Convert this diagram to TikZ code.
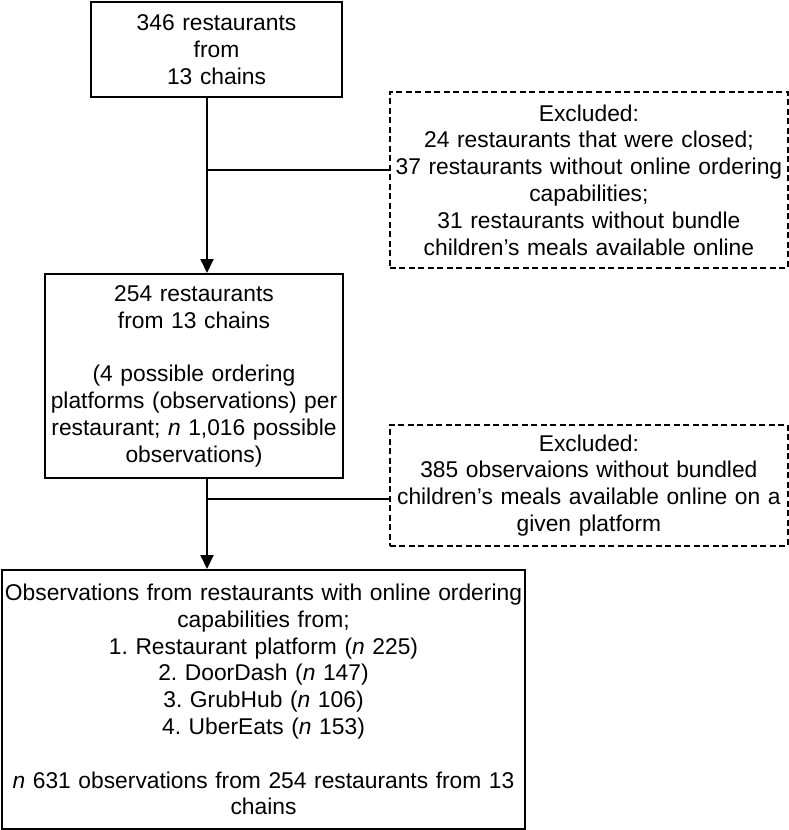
\documentclass[tikz,border=0pt]{standalone}
\usepackage{fontspec}
\setmainfont{Liberation Sans}
\usetikzlibrary{arrows.meta,positioning}
\frenchspacing

\begin{document}
\begin{tikzpicture}[
  x=1pt, y=-1pt,
  every node/.style={font=\fontsize{22.8}{26.8}\selectfont},
  flowbox/.style={draw, line width=2pt, anchor=north west, align=center, inner sep=2pt},
  exclbox/.style={flowbox, line width=1.8pt, dash pattern=on 6pt off 3.5pt},
  flowline/.style={line width=2pt},
  flowarrow/.style={flowline, -{Triangle[length=14pt,width=13pt]}}
]
  \useasboundingbox (0,0) rectangle (789,830);

  % main column
  \node[flowbox, text width=247pt, minimum height=95pt] (start) at (90,1)
    {346 restaurants\\from\\13 chains};
  \node[flowbox, text width=294pt, minimum height=204pt] (chains) at (44,273)
    {254 restaurants\\from 13 chains\\[26.8pt]
     (4 possible ordering\\platforms (observations) per\\restaurant; \textit{n} 1,016 possible\\observations)};
  \node[flowbox, text width=519pt, minimum height=259pt] (obs) at (1,569)
    {Observations from restaurants with online ordering\\capabilities from;\\
     1. Restaurant platform (\textit{n} 225)\\2. DoorDash (\textit{n} 147)\\
     3. GrubHub (\textit{n} 106)\\4. UberEats (\textit{n} 153)\\[26.8pt]
     \textit{n} 631 observations from 254 restaurants from 13\\chains};

  % exclusions
  \node[exclbox, text width=394pt, minimum height=176pt] (excl1) at (389,91)
    {Excluded:\\24 restaurants that were closed;\\37 restaurants without online ordering\\
     capabilities;\\31 restaurants without bundle\\children’s meals available online};
  \node[exclbox, text width=394pt, minimum height=121pt] (excl2) at (389,424)
    {Excluded:\\385 observaions without bundled\\children’s meals available online on a\\given platform};

  % connectors
  \coordinate (spine) at (207,0);
  \coordinate (branch1) at (207,170);
  \coordinate (branch2) at (207,499);
  \draw[flowarrow] (start.south -| spine) -- (chains.north -| spine);
  \draw[flowarrow] (chains.south -| spine) -- (obs.north -| spine);
  \draw[flowline] (branch1) -- (branch1 -| excl1.west);
  \draw[flowline] (branch2) -- (branch2 -| excl2.west);
\end{tikzpicture}
\end{document}
